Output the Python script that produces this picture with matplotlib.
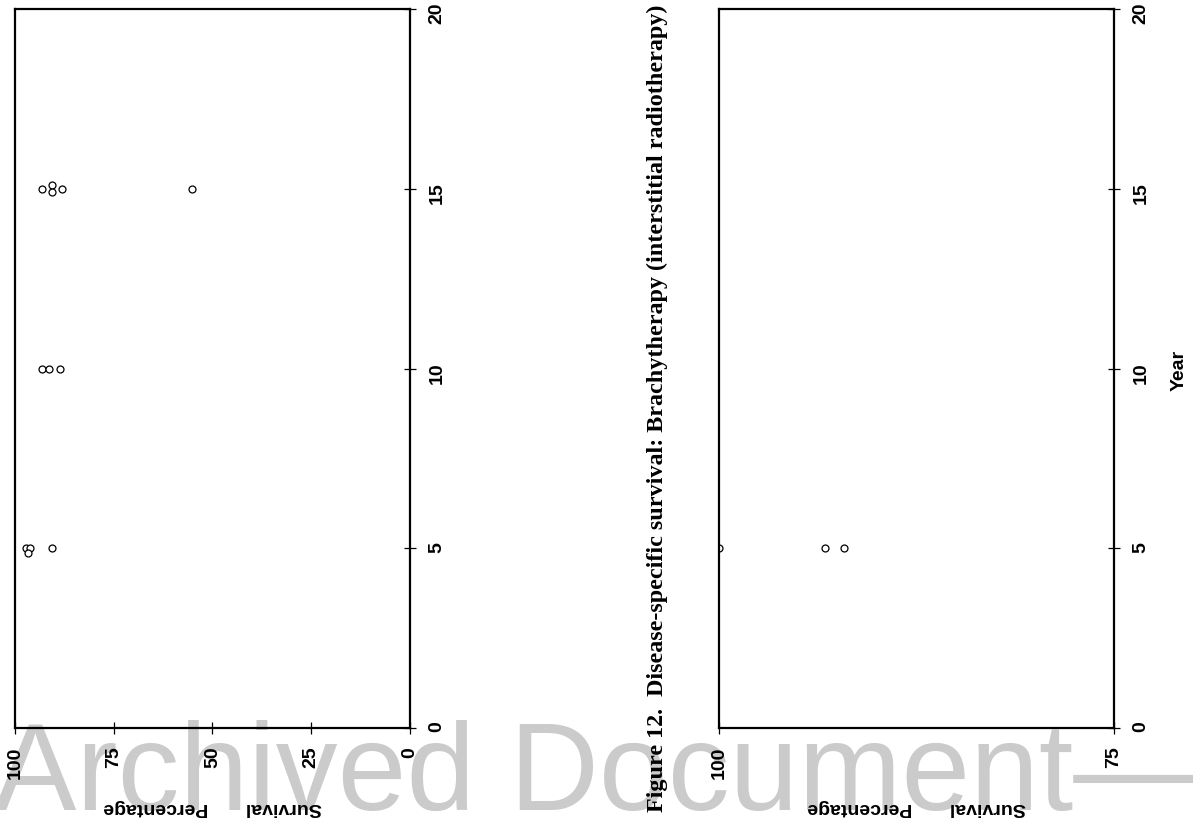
import matplotlib.pyplot as plt

# Disease-specific survival, brachytherapy series
# panel A: full 0-100 % range
yearA = [5, 5, 4.88, 5, 10, 10, 10, 15, 15.1, 14.9, 15, 15]
survA = [97.1, 96.1, 96.6, 90.7, 93.2, 91.4, 88.6, 93.2, 90.6, 90.6, 88.0, 55.3]

# panel B: zoomed 75-100 % range
yearB = [5, 5, 5]
survB = [100.0, 93.3, 92.1]

year_ticks = [0, 5, 10, 15, 20]
pctA_ticks = [100, 75, 50, 25, 0]
pctB_ticks = [100, 75]

caption = ("Figure 12.  Disease-specific survival: Brachytherapy "
           "(interstitial radiotherapy)")

W, H = 1193, 826
fig = plt.figure(figsize=(W / 100, H / 100), dpi=100)

sans = 'Liberation Sans'
serif = 'Liberation Serif'


def make_panel(left_px, xlim, xticks, years, surv, show_year_label):
    ax = fig.add_axes([left_px / W, (H - 728) / H, 395 / W, 719 / H])
    ax.set_facecolor('none')
    ax.plot(surv, years, linestyle='none', marker='o', markersize=5,
            markerfacecolor='white', markeredgecolor='black',
            markeredgewidth=0.9, clip_on=True)
    ax.set_xlim(*xlim)
    ax.set_ylim(0, 20)
    ax.set_xticks(xticks)
    ax.set_yticks(year_ticks)
    ax.set_xticklabels([str(t) for t in xticks], rotation=90,
                       fontfamily=sans, fontweight='bold', fontsize=14)
    ax.set_yticklabels([str(t) for t in year_ticks], rotation=90,
                       fontfamily=sans, fontweight='bold', fontsize=14)
    ax.yaxis.tick_right()
    ax.tick_params(axis='both', direction='inout', length=9, width=0.9,
                   pad=9, colors='black')
    for sp in ax.spines.values():
        sp.set_linewidth(1.6)
    ax.text(0.5, -0.11, 'Survival       Percentage', transform=ax.transAxes,
            rotation=180, ha='center', va='center', fontfamily=sans,
            fontweight='bold', fontsize=14)
    if show_year_label:
        ax.text(1.165, 0.497, 'Year', transform=ax.transAxes, rotation=90,
                ha='center', va='center', fontfamily=sans,
                fontweight='bold', fontsize=14)
    return ax


make_panel(15, (100, 0), pctA_ticks, yearA, survA, False)
make_panel(719, (100, 75), pctB_ticks, yearB, survB, True)

fig.text(657 / W, (H - 812) / H, caption, rotation=90, ha='center',
         va='bottom', fontfamily=serif, fontweight='bold', fontsize=17.4)

# archive stamp across the bottom, behind the axes
fig.text(-6 / W, (H - 810) / H, 'Archived Document\u2014', ha='left',
         va='baseline', fontfamily=sans, fontsize=89, color='#cbcbcb',
         zorder=-1)

fig.savefig('out.png', dpi=100)
